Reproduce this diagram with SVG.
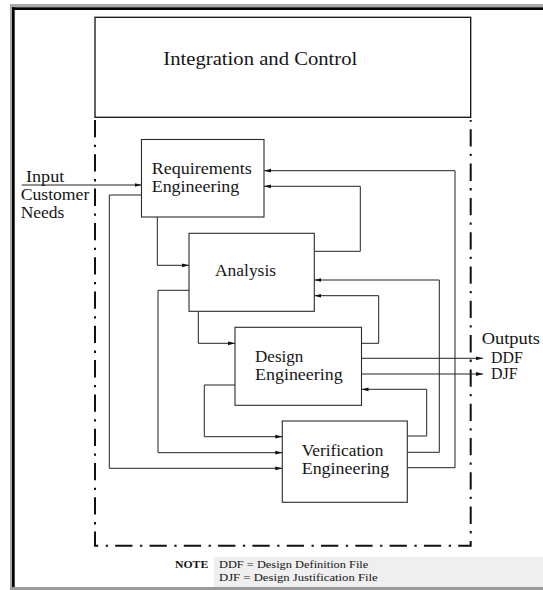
<svg xmlns="http://www.w3.org/2000/svg" width="543" height="590" viewBox="0 0 543 590">
  <style>
    .lbl { font-family: "Liberation Serif", "Times New Roman", serif; font-size: 16px; fill: #151515; }
    .title { font-size: 18.5px; }
    .small { font-size: 11px; }
    .bold { font-weight: bold; }
    .box { fill: #ffffff; stroke: #2a2a2a; stroke-width: 1.1; }
    .wire { fill: none; stroke: #222222; stroke-width: 1; }
    .arr { marker-end: url(#arrow); }
    .dashdot { fill: none; stroke: #111111; stroke-width: 2; stroke-dasharray: 17.3 7.5 2.3 7.2; }
  </style>
  <defs>
    <marker id="arrow" markerWidth="7" markerHeight="5" refX="7" refY="2.5" orient="auto" markerUnits="userSpaceOnUse">
      <path d="M0,0.6 L7,2.5 L0,4.4 z" fill="#111111"/>
    </marker>
  </defs>

  <!-- page background and frame -->
  <rect x="0" y="0" width="543" height="590" fill="#ffffff"/>
  <g id="frame">
    <rect x="10" y="4" width="533" height="3.3" fill="#a8a8a8"/>
    <rect x="10" y="4" width="2" height="586" fill="#a8a8a8"/>
    <rect x="12" y="7.3" width="531" height="2.7" fill="#000000"/>
    <rect x="12" y="7.3" width="2.7" height="580" fill="#000000"/>
    <rect x="10" y="587" width="533" height="3" fill="#9a9a9a"/>
  </g>

  <!-- integration and control block with dash-dot boundary -->
  <g id="integration">
    <rect x="95" y="17.3" width="375.7" height="100" fill="none" stroke="#111111" stroke-width="1.3"/>
    <text class="lbl title" x="163.3" y="65" textLength="194" lengthAdjust="spacingAndGlyphs">Integration and Control</text>
  </g>
  <g id="boundary">
    <path class="dashdot" d="M95,120 V545.7 H470.7 V120"/>
  </g>

  <!-- connectors -->
  <g id="connectors">
    <path class="wire arr" d="M21.7,185 H141.5"/>
    <path class="wire arr" d="M157.3,217 V265.3 H189"/>
    <path class="wire arr" d="M141.5,195 H109.3 V468.3 H282.3"/>
    <path class="wire arr" d="M189,290.3 H158 V452.7 H282.3"/>
    <path class="wire arr" d="M198.3,311.3 V343.3 H235"/>
    <path class="wire arr" d="M314.3,251.3 H360.3 V186.3 H264"/>
    <path class="wire arr" d="M361.5,343.3 H378.7 V295.7 H314.3"/>
    <path class="wire arr" d="M235,385 H204.3 V436.7 H282.3"/>
    <path class="wire arr" d="M361.5,358.3 H483"/>
    <path class="wire arr" d="M361.5,374 H483"/>
    <path class="wire arr" d="M407.3,436 H426.7 V389.3 H361.5"/>
    <path class="wire arr" d="M407.3,452.3 H439.3 V280 H314.3"/>
    <path class="wire arr" d="M407.3,467.7 H455 V170.7 H264"/>
  </g>

  <!-- process nodes -->
  <g id="requirements">
    <rect class="box" x="141.5" y="139.5" width="122.5" height="77.5"/>
    <text class="lbl" x="151.7" y="174" textLength="100" lengthAdjust="spacingAndGlyphs">Requirements</text>
    <text class="lbl" x="151.7" y="192" textLength="87.6" lengthAdjust="spacingAndGlyphs">Engineering</text>
  </g>
  <g id="analysis">
    <rect class="box" x="189" y="233.3" width="125.3" height="78"/>
    <text class="lbl" x="215" y="275.7" textLength="61" lengthAdjust="spacingAndGlyphs">Analysis</text>
  </g>
  <g id="design">
    <rect class="box" x="235" y="327.3" width="126.5" height="78"/>
    <text class="lbl" x="255" y="361.7" textLength="48.3" lengthAdjust="spacingAndGlyphs">Design</text>
    <text class="lbl" x="255" y="380" textLength="87.7" lengthAdjust="spacingAndGlyphs">Engineering</text>
  </g>
  <g id="verification">
    <rect class="box" x="282.3" y="421" width="125" height="81.3"/>
    <text class="lbl" x="301.7" y="455.7" textLength="81.6" lengthAdjust="spacingAndGlyphs">Verification</text>
    <text class="lbl" x="301.7" y="474" textLength="87.6" lengthAdjust="spacingAndGlyphs">Engineering</text>
  </g>

  <!-- input and output labels -->
  <g id="input">
    <text class="lbl" x="26" y="182.3" textLength="38.3" lengthAdjust="spacingAndGlyphs">Input</text>
    <text class="lbl" x="20.7" y="200" textLength="68.6" lengthAdjust="spacingAndGlyphs">Customer</text>
    <text class="lbl" x="20.7" y="218.3" textLength="43.6" lengthAdjust="spacingAndGlyphs">Needs</text>
  </g>
  <g id="outputs">
    <text class="lbl" x="481.7" y="344" textLength="58.3" lengthAdjust="spacingAndGlyphs">Outputs</text>
    <text class="lbl" x="491" y="363" textLength="31.7" lengthAdjust="spacingAndGlyphs">DDF</text>
    <text class="lbl" x="491" y="379" textLength="26.7" lengthAdjust="spacingAndGlyphs">DJF</text>
  </g>

  <!-- note -->
  <g id="note">
    <rect x="214" y="557" width="329" height="30" fill="#efefef"/>
    <text class="lbl small bold" x="175" y="568" textLength="33.3" lengthAdjust="spacingAndGlyphs">NOTE</text>
    <text class="lbl small" x="219" y="568" textLength="149.3" lengthAdjust="spacingAndGlyphs">DDF = Design Definition File</text>
    <text class="lbl small" x="219" y="581" textLength="158.7" lengthAdjust="spacingAndGlyphs">DJF = Design Justification File</text>
  </g>
</svg>
